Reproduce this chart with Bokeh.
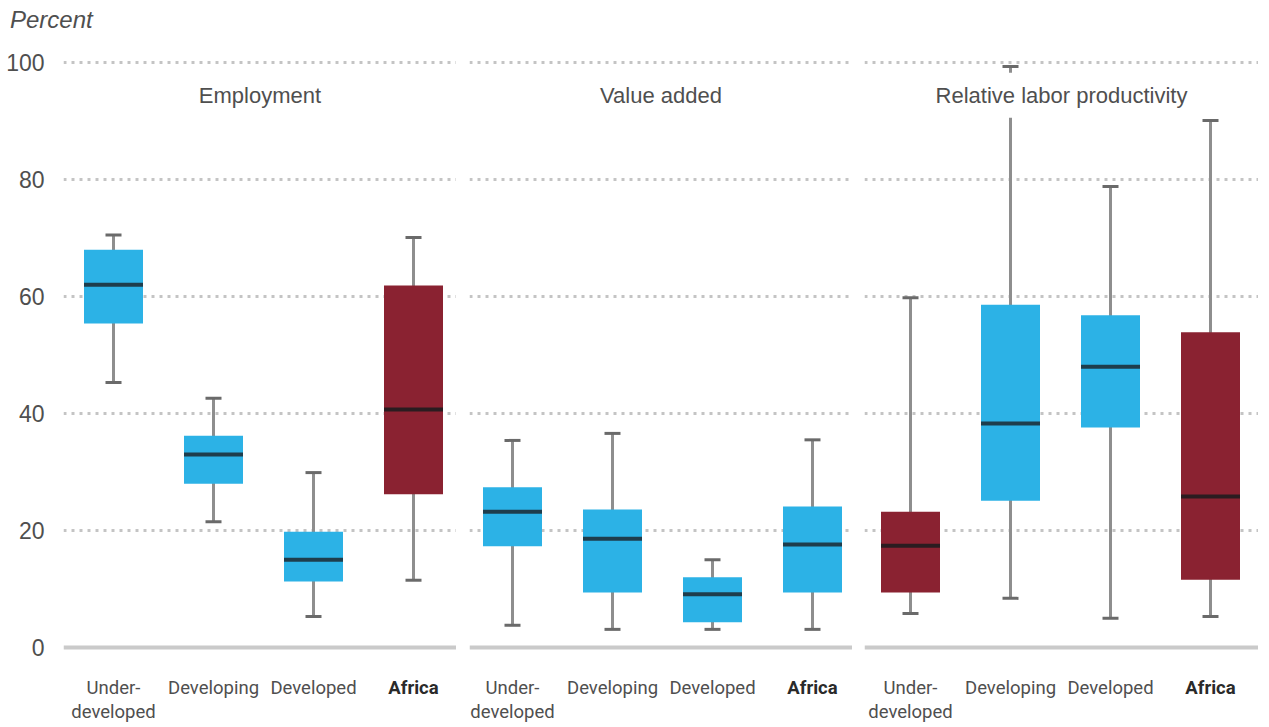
from bokeh.plotting import figure
from bokeh.layouts import row, column
from bokeh.models import Range1d, FixedTicker, Label, Span, ColumnDataSource, Grid, Div
from bokeh.core.properties import value
from bokeh.embed import file_html
from bokeh.resources import INLINE

# ---------------- data ----------------
categories = ["Under-\ndeveloped", "Developing", "Developed", "Africa"]
panel_titles = ["Employment", "Value added", "Relative labor productivity"]
y_ticks = [0, 20, 40, 60, 80, 100]
unit_label = "Percent"

emp_low = [45.3, 21.5, 5.3, 11.5]
emp_q1 = [55.4, 28.0, 11.3, 26.2]
emp_med = [62.0, 33.0, 15.0, 40.7]
emp_q3 = [68.0, 36.2, 19.8, 61.9]
emp_high = [70.5, 42.6, 29.9, 70.1]

va_low = [3.8, 3.1, 3.1, 3.1]
va_q1 = [17.3, 9.4, 4.3, 9.4]
va_med = [23.2, 18.6, 9.1, 17.6]
va_q3 = [27.4, 23.6, 12.0, 24.1]
va_high = [35.4, 36.6, 15.0, 35.5]

rlp_low = [5.8, 8.4, 5.0, 5.3]
rlp_q1 = [9.4, 25.1, 37.6, 11.6]
rlp_med = [17.4, 38.3, 48.0, 25.8]
rlp_q3 = [23.2, 58.6, 56.8, 53.9]
rlp_high = [59.8, 99.3, 78.8, 90.1]

# which boxes are highlighted (dark red)
emp_highlight = [False, False, False, True]
va_highlight = [False, False, False, False]
rlp_highlight = [True, False, False, True]

# ---------------- styling ----------------
BLUE = "#2cb2e6"
RED = "#8a2231"
MED_BLUE = "#1e3d4c"
MED_RED = "#2a1c20"
WHISK = "#8e8e8e"
CAP = "#6a6a6a"
GRID = "#c4c4c4"
BASE = "#cacaca"
TEXT = "#4f4f4f"
FONT = "Liberation Sans"
NARROW = "Roboto"

BOX_W = 0.59
CAP_W = 0.16
HEAD = 40
H = 727 - HEAD
TOP = 15
Y0, Y1 = -13.675, 101.2

panels = [
    dict(title=panel_titles[0], low=emp_low, q1=emp_q1, med=emp_med, q3=emp_q3, high=emp_high,
         hl=emp_highlight, xr=(-0.50, 3.43), left=63, frame=393),
    dict(title=panel_titles[1], low=va_low, q1=va_q1, med=va_med, q3=va_q3, high=va_high,
         hl=va_highlight, xr=(-0.43, 3.40), left=13, frame=383),
    dict(title=panel_titles[2], low=rlp_low, q1=rlp_q1, med=rlp_med, q3=rlp_q3, high=rlp_high,
         hl=rlp_highlight, xr=(-0.46, 3.48), left=12, frame=394),
]

figs = []
for i, pd_ in enumerate(panels):
    first = i == 0
    p = figure(width=pd_["left"] + pd_["frame"], height=H,
               x_range=Range1d(*pd_["xr"]), y_range=Range1d(Y0, Y1),
               output_backend="svg", toolbar_location=None,
               x_axis_location=None, y_axis_location="left" if first else None,
               min_border_left=pd_["left"], min_border_right=0,
               min_border_top=TOP, min_border_bottom=0)
    p.outline_line_color = None
    p.background_fill_color = "white"
    p.border_fill_color = "white"
    for g in p.grid:
        g.visible = False

    p.add_layout(Grid(dimension=1, ticker=FixedTicker(ticks=y_ticks[1:]),
                      grid_line_color=GRID, grid_line_width=3,
                      grid_line_dash="3 5"))
    p.add_layout(Span(location=y_ticks[0], dimension="width",
                      line_color=BASE, line_width=4))

    if first:
        ax = p.yaxis[0]
        ax.ticker = FixedTicker(ticks=y_ticks)
        ax.axis_line_color = None
        ax.major_tick_line_color = None
        ax.minor_tick_line_color = None
        ax.major_label_standoff = 13
        ax.major_label_text_font = FONT
        ax.major_label_text_font_size = "23px"
        ax.major_label_text_color = TEXT

    xs = list(range(len(categories)))
    fills = [RED if h else BLUE for h in pd_["hl"]]
    meds = [MED_RED if h else MED_BLUE for h in pd_["hl"]]
    src = ColumnDataSource(dict(
        x=xs, low=pd_["low"], q1=pd_["q1"], med=pd_["med"], q3=pd_["q3"], high=pd_["high"],
        fill=fills, medc=meds,
        xl=[x - BOX_W / 2 for x in xs], xr=[x + BOX_W / 2 for x in xs],
        cl=[x - CAP_W / 2 for x in xs], cr=[x + CAP_W / 2 for x in xs],
    ))
    # whiskers
    p.segment(x0="x", x1="x", y0="low", y1="high", source=src,
              line_color=WHISK, line_width=3)
    p.segment(x0="cl", x1="cr", y0="high", y1="high", source=src,
              line_color=CAP, line_width=3)
    p.segment(x0="cl", x1="cr", y0="low", y1="low", source=src,
              line_color=CAP, line_width=3)
    # boxes
    p.vbar(x="x", width=BOX_W, bottom="q1", top="q3", source=src,
           fill_color="fill", line_color=None)
    # medians
    p.segment(x0="xl", x1="xr", y0="med", y1="med", source=src,
              line_color="medc", line_width=4)

    # category labels
    lab = ColumnDataSource(dict(
        x=xs, y=[y_ticks[0]] * len(xs), text=categories,
        style=["bold" if c == "Africa" else "normal" for c in categories],
        color=["#2a2a2a" if c == "Africa" else TEXT for c in categories],
    ))
    p.text(x="x", y="y", text="text", source=lab, y_offset=29,
           text_align="center", text_baseline="top",
           text_font=value(NARROW), text_font_size="18.5px",
           text_font_style="style", text_color="color",
           text_line_height=1.12)

    # panel title
    xm = (pd_["xr"][0] + pd_["xr"][1]) / 2
    p.add_layout(Label(x=xm, y=94.4, text=pd_["title"], text_align="center",
                       text_baseline="middle", text_font=FONT,
                       text_font_size="22px", text_color=TEXT,
                       background_fill_color="white", padding=10))
    figs.append(p)

head = Div(text=unit_label, width=300, height=HEAD,
           styles={"font-family": FONT, "font-style": "italic", "font-size": "24px",
                   "color": TEXT, "line-height": f"{HEAD}px", "padding-left": "10px",
                   "margin": "0"})
layout = column(head, row(*figs))
open("out.html", "w").write(file_html(layout, INLINE))
